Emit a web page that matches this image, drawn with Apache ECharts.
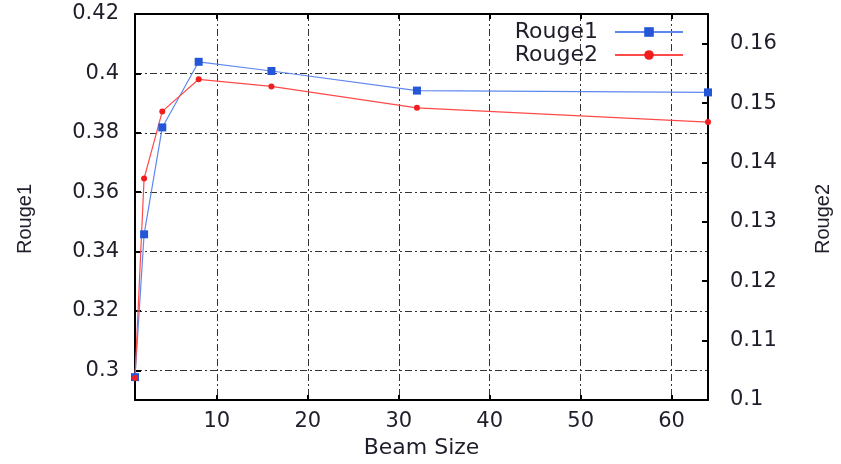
<!DOCTYPE html>
<html>
<head>
<meta charset="utf-8">
<script src="https://cdn.jsdelivr.net/npm/echarts@6/dist/echarts.min.js"></script>
<style>html,body{margin:0;padding:0;background:#fff}#c{width:841px;height:464px}</style>
</head>
<body>
<div id="c"></div>
<script>
var beamSizes = [1, 2, 4, 8, 16, 32, 64];
var rouge1 = [0.2977, 0.3458, 0.3818, 0.4039, 0.4008, 0.3942, 0.3936];
var rouge2 = [0.1037, 0.1373, 0.1486, 0.1540, 0.1528, 0.1492, 0.1468];
var xTicks = [10, 20, 30, 40, 50, 60];
var y1Ticks = [0.3, 0.32, 0.34, 0.36, 0.38, 0.4, 0.42];
var y2Ticks = [0.1, 0.11, 0.12, 0.13, 0.14, 0.15, 0.16];

var FONT = 'DejaVu Sans';
var TXT = '#1e1e2a';
var tick = {color: TXT, fontFamily: FONT, fontSize: 21};
var hName = {color: TXT, fontFamily: FONT, fontSize: 22};
var vName = {color: TXT, fontFamily: "'Liberation Sans Narrow', 'Liberation Sans'", fontSize: 20, padding: [0, 24, 0, 0]};
var dashDot = {color: '#333', width: 1, type: [7, 3, 2, 3]};

var chart = echarts.init(document.getElementById('c'), null, {renderer: 'canvas'});
chart.setOption({
  animation: false,
  backgroundColor: '#fff',
  grid: {left: 135, right: 128, top: 14, bottom: 60},
  legend: {
    orient: 'vertical', align: 'right', right: 152, top: 16,
    itemWidth: 68, itemHeight: 12, itemGap: 1,
    textStyle: {color: TXT, fontFamily: FONT, fontSize: 22, lineHeight: 18, padding: [0, 12, 0, 0]},
    data: ['Rouge1', 'Rouge2']
  },
  xAxis: [{
    type: 'value', min: 1, max: 64, position: 'bottom',
    name: 'Beam Size', nameLocation: 'middle', nameGap: 37,
    nameTextStyle: hName,
    axisLine: {lineStyle: {color: '#000', width: 2}},
    axisTick: {inside: true, length: 5, customValues: xTicks, lineStyle: {color: '#000', width: 2}},
    axisLabel: Object.assign({customValues: xTicks, margin: 11}, tick),
    splitLine: {show: true, lineStyle: dashDot}
  }, {
    type: 'value', min: 1, max: 64, position: 'top',
    axisLine: {lineStyle: {color: '#000', width: 2}},
    axisTick: {inside: true, length: 5, customValues: xTicks, lineStyle: {color: '#000', width: 2}},
    axisLabel: {show: false},
    splitLine: {show: false}
  }],
  yAxis: [{
    type: 'value', min: 0.29, max: 0.42, position: 'left',
    name: 'Rouge1', nameLocation: 'middle', nameRotate: 90, nameGap: 100,
    nameTextStyle: vName,
    axisLine: {show: true, lineStyle: {color: '#000', width: 2}},
    axisTick: {show: true, inside: true, length: 6, customValues: y1Ticks, lineStyle: {color: '#000', width: 2}},
    axisLabel: Object.assign({customValues: y1Ticks, margin: 16}, tick),
    splitLine: {show: true, lineStyle: dashDot}
  }, {
    type: 'value', min: 0.1, max: 0.165, position: 'right',
    name: 'Rouge2', nameLocation: 'middle', nameRotate: 90, nameGap: 105,
    nameTextStyle: vName,
    axisLine: {show: true, lineStyle: {color: '#000', width: 2}},
    axisTick: {show: true, inside: true, length: 6, customValues: y2Ticks, lineStyle: {color: '#000', width: 2}},
    axisLabel: Object.assign({customValues: y2Ticks, margin: 22}, tick),
    splitLine: {show: false}
  }],
  series: [{
    name: 'Rouge1', type: 'line', xAxisIndex: 0, yAxisIndex: 0,
    data: beamSizes.map(function (b, i) { return [b, rouge1[i]]; }),
    symbol: 'rect', symbolSize: 8, showAllSymbol: true,
    lineStyle: {color: '#5f88ee', width: 1.2},
    itemStyle: {color: '#2456d8'}
  }, {
    name: 'Rouge2', type: 'line', xAxisIndex: 0, yAxisIndex: 1,
    data: beamSizes.map(function (b, i) { return [b, rouge2[i]]; }),
    symbol: 'circle', symbolSize: 6, showAllSymbol: true,
    lineStyle: {color: '#ff4a4a', width: 1.2},
    itemStyle: {color: '#f01e1e'}
  }]
});
</script>
</body>
</html>
